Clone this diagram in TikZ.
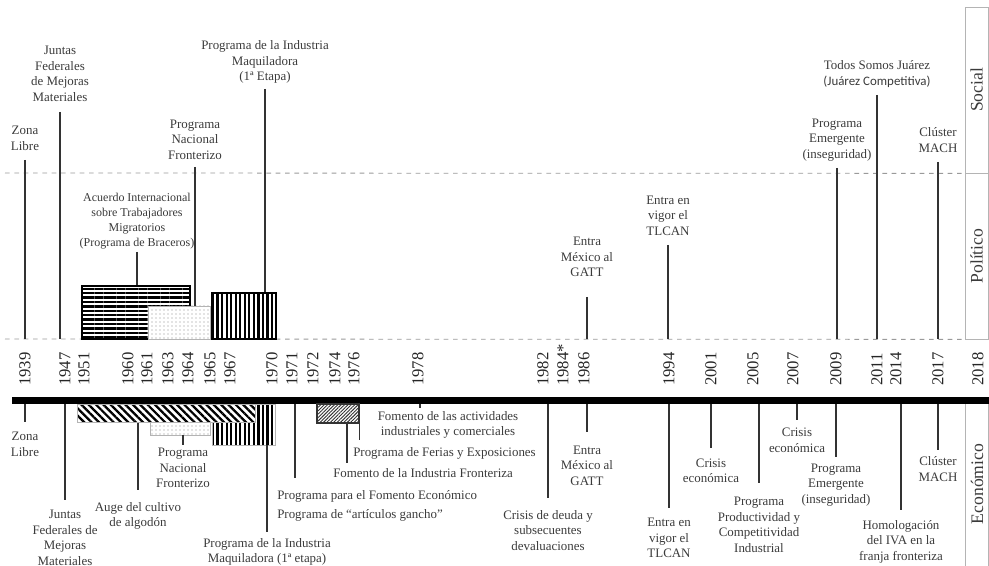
\documentclass[tikz,border=0pt]{standalone}
\usepackage{fontspec}
\setmainfont{Liberation Serif}
\newfontfamily\carlito{Carlito}
\usetikzlibrary{patterns.meta,fit}
\definecolor{txt}{HTML}{3A3A3A}
\definecolor{ln}{HTML}{333333}
\definecolor{dsh}{HTML}{9A9A9A}
\definecolor{bxl}{HTML}{B4B4B4}
\begin{document}
\begin{tikzpicture}[x=0.75pt,y=-0.75pt,
  lbl/.style={font=\fontsize{9.7}{11.6}\selectfont, text=txt, align=center, inner xsep=0pt, inner ysep=4.5pt, text depth=2.5pt},
  lblT/.style={lbl, anchor=south},
  lblB/.style={lbl, anchor=north, inner ysep=7.5pt},
  lblL/.style={lbl, anchor=base west, align=left},
  conn/.style={draw=ln, line width=1.4pt},
  yr/.style={rotate=90, anchor=west, font=\fontsize{12.5}{14}\selectfont, text=black!85, inner sep=0pt},
  cat/.style={rotate=90, font=\fontsize{13.2}{15}\selectfont, text=txt},
  dsl/.style={draw=dsh, line width=0.6pt, dash pattern=on 3.5pt off 3.5pt},
  catbox/.style={draw=bxl, line width=0.6pt, inner sep=0pt},
  box/.style={inner sep=0pt, line width=0.8pt},
  hstripes/.style={box, draw=black, pattern={Lines[angle=0,distance=3.3pt,line width=1.7pt]}, pattern color=black},
  vstripes/.style={box, pattern={Lines[angle=90,distance=3.4pt,line width=1.7pt]}, pattern color=black},
  dotbox/.style={box, draw=bxl, line width=0.6pt, preaction={fill=white}, pattern={Dots[distance=3pt,radius=0.55pt]}, pattern color=black!45},
  diagbox/.style={box, draw=bxl, line width=0.6pt, preaction={fill=white}, pattern={Lines[angle=-45,distance=3.9pt,line width=1.7pt]}, pattern color=black},
  finebox/.style={box, draw=ln, pattern={Lines[angle=45,distance=1.8pt,line width=0.7pt]}, pattern color=ln},
  ]
\useasboundingbox (0,0) rectangle (989,566);

% reference coordinates
\coordinate (socB) at (0,173);
\coordinate (polB) at (0,339);
\coordinate (barB) at (0,404);

% category frames
\node[catbox, fit={(965,7) (988,173)}] (socBox) {};
\node[catbox, fit={(965,173) (988,339)}] (polBox) {};
\draw[draw=bxl, line width=0.6pt] (965,404) -- (965,566) (988,404) -- (988,566);
\node[cat] (socL) at (socBox.center) {Social};
\node[cat] (polL) at (polBox.center) {Político};
\node[cat] (ecoL) at (977,484) {Económico};

% dashed separators
\draw[dsl] (5,173) -- (socBox.south west);
\draw[dsl] (5,339) -- (polBox.south west);

% years
\foreach \x/\t [count=\i] in {25/1939,65/1947,84/1951,128/1960,147/1961,168/1963,188/1964,210/1965,230/1967,272/1970,292/1971,313/1972,335/1974,354/1976,418/1978,543/1982,563/1984*,584/1986,669/1994,711/2001,753/2005,793/2007,836/2009,877/2011,896/2014,938/2017,978/2018}
  \node[yr] (yr\i) at (\x,386) {\t};

% thick bar
\fill[black] (12,397) rectangle (989,404);

% ---------- upper part (social / politico) ----------
\node[hstripes, fit={(82,286) (190,339)}] (hT) {};
\node[dotbox, fit={(148,306) (210,339)}] (dT) {};
\node[vstripes, draw=black, fit={(212,293) (276,339)}] (vT) {};

\node[lblT] (zonaT) at (25,160) {Zona\\Libre};
\node[lblT, inner ysep=5.5pt] (juntT) at (60,112) {Juntas\\Federales\\de Mejoras\\Materiales};
\node[lblT, inner ysep=3pt] (pnfT) at (195,167) {Programa\\Nacional\\Fronterizo};
\node[lblT, inner ysep=3.5pt] (maqT) at (265,89) {Programa de la Industria\\Maquiladora\\(1ª Etapa)};
\node[lblT, font=\fontsize{9}{11.2}\selectfont, inner ysep=1.5pt] (bracT) at (137,252) {Acuerdo Internacional\\sobre Trabajadores\\Migratorios\\(Programa de Braceros)};
\node[lblT, inner ysep=12.5pt] (gattT) at (587,297) {Entra\\México al\\GATT};
\node[lblT] (tlcT) at (668,245) {Entra en\\vigor el\\TLCAN};
\node[lblT] (emT) at (837,168) {Programa\\Emergente\\(inseguridad)};
\node[lblT] (todT) at (877,95) {Todos Somos Juárez\\{\carlito (Juárez Competitiva)}};
\node[lblT] (machT) at (938,162) {Clúster\\MACH};

\draw[conn] (zonaT) -- (zonaT |- polB);
\draw[conn] (juntT) -- (juntT |- polB);
\draw[conn] (pnfT) -- (pnfT |- dT.north);
\draw[conn] (maqT) -- (maqT |- vT.north);
\draw[conn] (bracT) -- (bracT |- hT.north);
\draw[conn] (gattT) -- (gattT |- polB);
\draw[conn] (tlcT) -- (tlcT |- polB);
\draw[conn] (emT) -- (emT |- polB);
\draw[conn] (todT) -- (todT |- polB);
\draw[conn] (machT) -- (machT |- polB);

% ---------- lower part (economico) ----------
\node[vstripes, draw=bxl, line width=0.6pt, fit={(212,404) (275,445)}] (vB) {};
\node[dotbox, fit={(150,404) (210,435)}] (dB) {};
\node[diagbox, fit={(77,404) (255,422)}] (aB) {};
\node[finebox, fit={(317,404) (359,423)}] (fB) {};

\node[lblB] (zonaB) at (25,422) {Zona\\Libre};
\node[lblB] (juntB) at (65,500) {Juntas\\Federales de\\Mejoras\\Materiales};
\node[lblB, inner ysep=9pt] (algB) at (138,490) {Auge del cultivo\\de algodón};
\node[lblB, inner ysep=2.3pt] (pnfB) at (183,445) {Programa\\Nacional\\Fronterizo};
\node[lblB, inner ysep=4.5pt] (maqB) at (267,532) {Programa de la Industria\\Maquiladora (1ª etapa)};

\coordinate (x71) at (295,0);
\node[lblL, inner ysep=8.6pt] (fomEco) at (277,499) {Programa para el Fomento Económico};
\node[lblL] (ganB) at (277,518) {Programa de “artículos gancho”};

\coordinate (x74) at (347,0);
\node[lblL, inner ysep=4.5pt] (froB) at (333,478) {Fomento de la Industria Fronteriza};
\node[lblL, inner ysep=5.2pt] (ferB) at (353,456) {Programa de Ferias y Exposiciones};

\coordinate (x78) at (420,0);
\node[lblB, inner ysep=2.3pt] (actB) at (448,408) {Fomento de las actividades\\industriales y comerciales};

\node[lblB, inner ysep=9pt] (crdB) at (548,498) {Crisis de deuda y\\subsecuentes\\devaluaciones};
\node[lblB, inner ysep=10pt] (gattB) at (587,432) {Entra\\México al\\GATT};
\node[lblB] (tlcB) at (669,508) {Entra en\\vigor el\\TLCAN};
\node[lblB, inner ysep=8pt] (cr01B) at (711,448) {Crisis\\económica};
\node[lblB, inner ysep=10.5pt] (proB) at (759,483) {Programa\\Productividad y\\Competitividad\\Industrial};
\node[lblB, inner ysep=6pt] (cr07B) at (797,420) {Crisis\\económica};
\node[lblB, inner ysep=5pt] (emB) at (836,457) {Programa\\Emergente\\(inseguridad)};
\node[lblB] (homB) at (901,510) {Homologación\\del IVA en la\\franja fronteriza};
\node[lblB, inner ysep=5pt] (machB) at (938,450) {Clúster\\MACH};

\draw[conn] (zonaB |- barB) -- (zonaB);
\draw[conn] (juntB |- barB) -- (juntB);
\draw[conn] (algB |- aB.south) -- (algB);
\draw[conn] (pnfB |- dB.south) -- (pnfB);
\draw[conn] (maqB |- vB.south) -- (maqB);
\draw[conn] (x71 |- barB) -- (x71 |- fomEco.north);
\draw[conn] (x74 |- fB.south) -- (x74 |- froB.north);
\draw[conn] (fB.south east) -- (fB.south east |- ferB.north);
\draw[conn] (x78 |- barB) -- (x78 |- actB.north);
\draw[conn] (crdB |- barB) -- (crdB);
\draw[conn] (gattB |- barB) -- (gattB);
\draw[conn] (tlcB |- barB) -- (tlcB);
\draw[conn] (cr01B |- barB) -- (cr01B);
\draw[conn] (proB |- barB) -- (proB);
\draw[conn] (cr07B |- barB) -- (cr07B);
\draw[conn] (emB |- barB) -- (emB);
\draw[conn] (homB |- barB) -- (homB);
\draw[conn] (machB |- barB) -- (machB);
\end{tikzpicture}
\end{document}
